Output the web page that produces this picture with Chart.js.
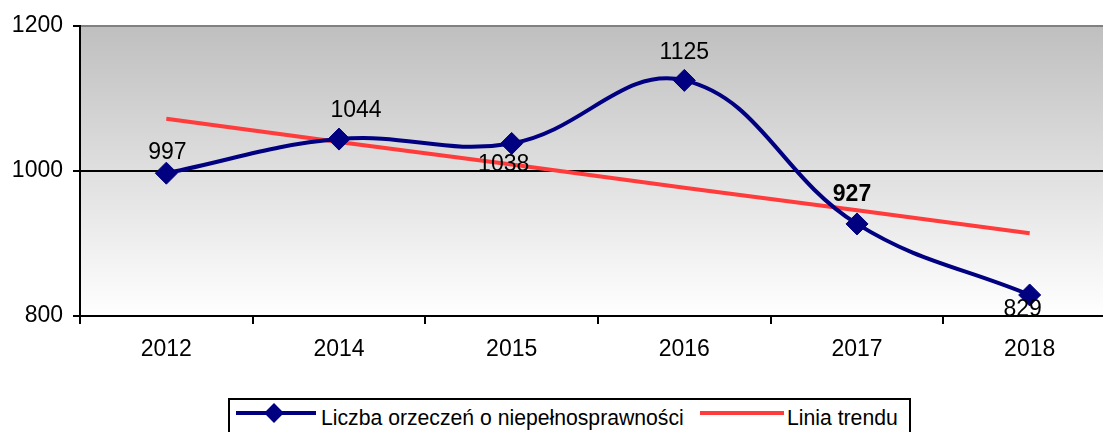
<!DOCTYPE html>
<html>
<head>
<meta charset="utf-8">
<script src="https://cdn.jsdelivr.net/npm/chart.js@4"></script>
<style>
  html, body { margin: 0; padding: 0; background: #fff; overflow: hidden; width: 1103px; height: 432px; }
  #c { position: absolute; left: 0; top: 0; }
  #legend { position: absolute; left: 228px; top: 398px; width: 683px; height: 44px; border: 2px solid #000; box-sizing: border-box;
            font-family: "Liberation Sans", Arial, sans-serif; font-size: 21.2px; color: #000; }
  .item { position: absolute; top: 5px; height: 26px; line-height: 26px; white-space: nowrap; }
  .line { position: absolute; top: 11px; height: 4px; }
  .dia { position: absolute; top: 6px; width: 14px; height: 14px; background: #000080; transform: rotate(45deg); }
</style>
</head>
<body>
<canvas id="c" width="1128" height="390" style="width:1128px;height:390px;"></canvas>
<div id="legend">
  <div class="line" style="left:6px;width:80px;background:#000080;"></div>
  <div class="dia" style="left:37px;"></div>
  <div class="item" id="l1" style="left:91px;"></div>
  <div class="line" style="left:470px;width:84px;background:#ff3b3b;"></div>
  <div class="item" id="l2" style="left:557px;"></div>
</div>
<script>
const categories = ["2012", "2014", "2015", "2016", "2017", "2018"];
const seriesValues = [997, 1044, 1038, 1125, 927, 829];
const trendValues = [1072, 1040, 1009, 977, 946, 914];
const seriesName = "Liczba orzeczeń o niepełnosprawności";
const trendName = "Linia trendu";
const yTicks = [800, 1000, 1200];

document.getElementById('l1').textContent = seriesName;
document.getElementById('l2').textContent = trendName;

const FONT = '"Liberation Sans", Arial, sans-serif';
const labelStyle = [
  { dx: 1, dy: -21, bold: false },
  { dx: 17, dy: -28, bold: false },
  { dx: -8, dy: 21, bold: false },
  { dx: 0, dy: -28, bold: false },
  { dx: -5, dy: -29, bold: true },
  { dx: -7, dy: 15, bold: false }
];

const bgPlugin = {
  id: 'bg',
  beforeDraw(chart) {
    const { ctx, chartArea: a } = chart;
    const g = ctx.createLinearGradient(0, a.top, 0, a.bottom);
    g.addColorStop(0, '#bfbfbf');
    g.addColorStop(1, '#ffffff');
    ctx.save();
    ctx.fillStyle = g;
    ctx.fillRect(a.left, a.top, a.right - a.left, a.bottom - a.top);
    ctx.restore();
  }
};

const labelPlugin = {
  id: 'vlabels',
  afterDatasetsDraw(chart) {
    const { ctx } = chart;
    const meta = chart.getDatasetMeta(0);
    ctx.save();
    ctx.fillStyle = '#000';
    ctx.textAlign = 'center';
    ctx.textBaseline = 'middle';
    meta.data.forEach((pt, i) => {
      const s = labelStyle[i];
      ctx.font = (s.bold ? 'bold ' : '') + '23px ' + FONT;
      ctx.fillText(String(seriesValues[i]), pt.x + s.dx, pt.y + s.dy);
    });
    ctx.restore();
  }
};

new Chart(document.getElementById('c'), {
  type: 'line',
  data: {
    labels: categories,
    datasets: [
      {
        label: seriesName,
        data: seriesValues,
        borderColor: '#000080',
        backgroundColor: '#000080',
        borderWidth: 4,
        tension: 0.4,
        pointStyle: 'rectRot',
        pointRadius: 11,
        pointBorderWidth: 1,
        pointBackgroundColor: '#000080',
        pointBorderColor: '#000080',
        order: 1
      },
      {
        label: trendName,
        data: trendValues,
        borderColor: '#ff3b3b',
        borderWidth: 4,
        tension: 0,
        pointRadius: 0,
        order: 2
      }
    ]
  },
  options: {
    responsive: false,
    maintainAspectRatio: false,
    devicePixelRatio: 1,
    animation: false,
    layout: { padding: { top: 26, right: 0, left: 0, bottom: 0 } },
    plugins: { legend: { display: false }, tooltip: { enabled: false } },
    scales: {
      x: {
        type: 'category',
        offset: true,
        grid: { offset: true, drawOnChartArea: false, drawTicks: true, tickLength: 8, tickColor: '#000', lineWidth: 2 },
        border: { display: true, color: '#000', width: 2 },
        ticks: { color: '#000', font: { family: FONT, size: 23 }, padding: 12, maxRotation: 0 },
        afterFit(s) { s.height = 74; }
      },
      y: {
        min: 800, max: 1200,
        afterBuildTicks(s) { s.ticks = yTicks.map(v => ({ value: v })); },
        grid: {
          drawOnChartArea: true, drawTicks: true, tickLength: 7, tickColor: '#000', lineWidth: 2,
          color(ctx) { return ctx.tick && ctx.tick.value === 1200 ? '#808080' : '#000'; }
        },
        border: { display: true, color: '#000', width: 2 },
        ticks: { color: '#000', font: { family: FONT, size: 23 }, padding: 10, callback: (v) => String(v) },
        afterFit(s) { s.width = 80; }
      }
    }
  },
  plugins: [bgPlugin, labelPlugin]
});
</script>
</body>
</html>
